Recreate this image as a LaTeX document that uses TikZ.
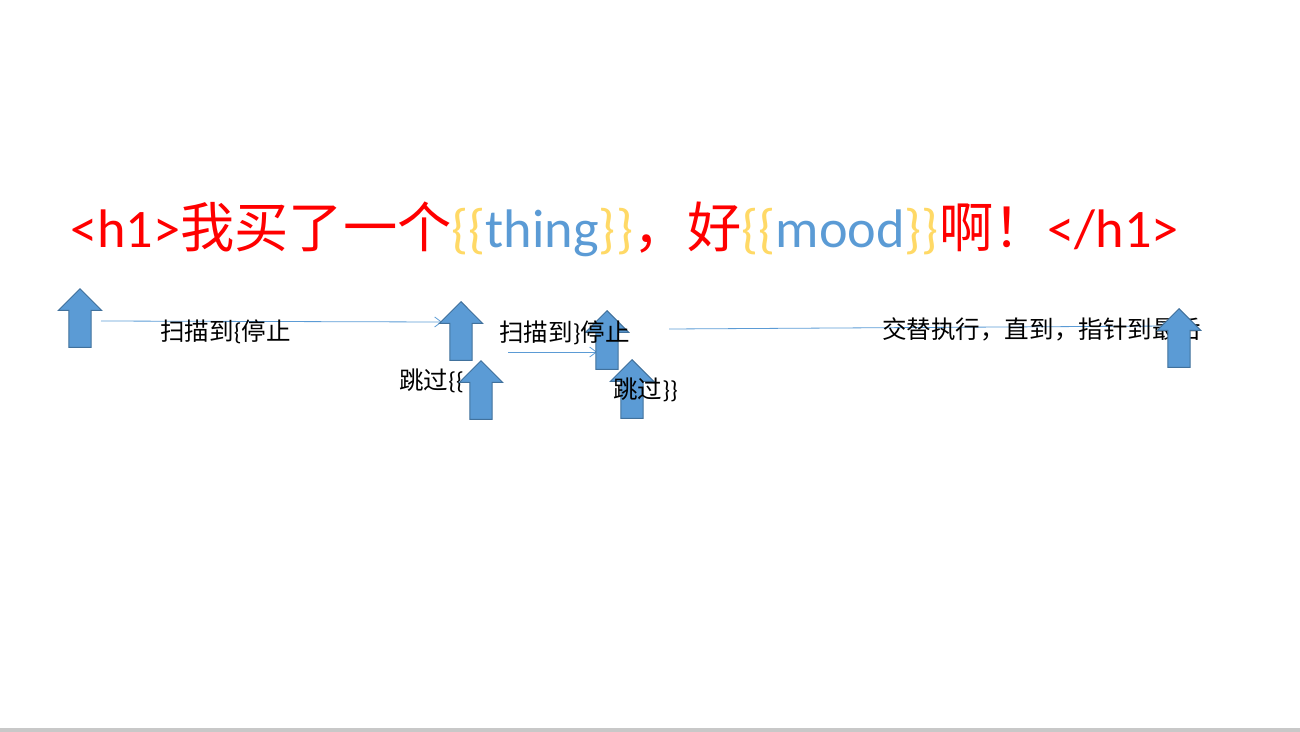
\documentclass[tikz,border=0pt]{standalone}
\usepackage{fontspec}
\setmainfont{Carlito}
\newfontfamily\cjk{Noto Sans CJK SC}
\usepackage{tikz}
\usetikzlibrary{arrows.meta, shapes.arrows, backgrounds}
\usepackage{xcolor}
\definecolor{mRed}{HTML}{FF0000}
\definecolor{mGold}{HTML}{FFD966}
\definecolor{mBlue}{HTML}{5B9BD5}
\definecolor{mDarkBlue}{HTML}{41719C}
\definecolor{mGrey}{HTML}{C8C8C8}

\begin{document}
\begin{tikzpicture}[x=0.75pt, y=-0.75pt, >={Straight Barb[length=5pt, width=7.5pt]},
    ptr/.style={single arrow, shape border rotate=90, draw=mDarkBlue, fill=mBlue, line width=0.75pt,
      minimum width=31.5pt, minimum height=44pt, single arrow head extend=7.9pt,
      inner xsep=7.9pt, inner ysep=0pt, anchor=tip},
    scan/.style={draw=mBlue, line width=0.6pt, ->},
    lbl/.style={inner sep=0pt, anchor=base west, font=\fontsize{18.4}{22}\selectfont}]
  \useasboundingbox (0,0) rectangle (1300,732);
  \node[inner sep=0pt, anchor=base west, font=\fontsize{40.7}{48}\selectfont, text=mRed] (title) at (70,247)
    {<h1>{\cjk 我买了一个}{\color{mGold}\{\{}{\color{mBlue}thing}{\color{mGold}\}\}}{\cjk ，好}{\color{mGold}\{\{}{\color{mBlue}mood}{\color{mGold}\}\}}{\cjk 啊！}</h1>};
  \node[lbl] (scanopen) at (160,340) {{\cjk 扫描到}\{{\cjk 停止}};
  \node[lbl] (skipopen) at (399,389) {{\cjk 跳过}\{\{};
  \node[lbl] (repeat) at (882,338) {\cjk 交替执行，直到，指针到最后};
  \node[ptr] (p1) at (80,288) {};
  \node[ptr] (p2) at (461,301) {};
  \node[ptr] (p3) at (481,360) {};
  \node[ptr] (p4) at (607,310) {};
  \node[ptr] (p5) at (632,359) {};
  \node[ptr] (p6) at (1179,308) {};
  \node[lbl] (scanclose) at (499,341) {{\cjk 扫描到}\}{\cjk 停止}};
  \node[lbl] (skipclose) at (613,398) {{\cjk 跳过}\}\}};
  \begin{scope}[on background layer]
    \fill[mGrey] (0,728) rectangle (1300,732);
    \draw[scan] ([shift={(21,33)}]p1.tip) -- ([shift={(-19,21)}]p2.tip);
    \draw[scan] ([shift={(27,-8)}]p3.tip) -- ([shift={(-10,42)}]p4.tip);
    \draw[scan] ([shift={(62,19)}]p4.tip) -- ([shift={(-11,18)}]p6.tip);
  \end{scope}
\end{tikzpicture}
\end{document}
